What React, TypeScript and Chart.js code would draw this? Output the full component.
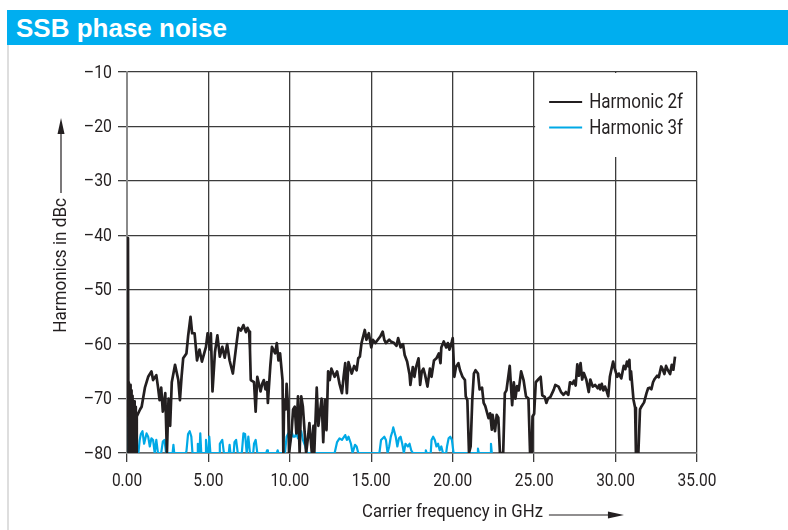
import React, { useEffect, useRef } from "react";
import { Chart, registerables } from "chart.js";

Chart.register(...registerables);

const FONT = "Roboto, 'Liberation Sans', sans-serif";

const TITLE = "SSB phase noise";
const X_TITLE = "Carrier frequency in GHz";
const Y_TITLE = "Harmonics in dBc";
const SERIES_NAMES = ["Harmonic 2f", "Harmonic 3f"];
const X_TICKS = [0, 5, 10, 15, 20, 25, 30, 35];
const Y_TICKS = [-10, -20, -30, -40, -50, -60, -70, -80];

// Harmonic 2f
const freq2 = [
  0.0, 0.06, 0.09, 0.11, 0.13, 0.15, 0.17, 0.19, 0.21, 0.23, 0.25, 0.27, 0.29, 0.31, 0.33, 0.35, 0.37, 0.39, 0.41, 0.43,
  0.45, 0.47, 0.49, 0.51, 0.53, 0.55, 0.57, 0.6, 0.8, 0.9, 1.1, 1.3,
  1.5, 1.6, 1.8, 1.9, 2.0, 2.1, 2.2, 2.35, 2.45, 2.55, 2.65, 2.75, 2.95, 3.15, 3.25, 3.35, 3.45, 3.65, 3.75, 3.9,
  4.0, 4.15, 4.3, 4.45, 4.6, 4.85, 4.95, 5.1, 5.15, 5.25, 5.4, 5.55, 5.7, 5.85, 6.0, 6.15, 6.3, 6.5, 6.7, 6.85,
  7.0, 7.15, 7.3, 7.4, 7.5, 7.55, 7.6, 7.8, 7.9, 8.0, 8.2, 8.3, 8.4, 8.5, 8.6, 8.65, 8.8, 8.9, 9.1, 9.2,
  9.3, 9.4, 9.55, 9.6, 9.65, 9.75, 9.8, 9.9, 9.95, 10.1, 10.2, 10.3, 10.4, 10.5, 10.6, 10.7, 10.8, 10.9, 11.0, 11.1,
  11.2, 11.35, 11.45, 11.5, 11.65, 11.75, 11.85, 11.95, 12.05, 12.15, 12.25, 12.35, 12.45, 12.55, 12.75, 12.9, 13.05, 13.2, 13.3, 13.4,
  13.5, 13.6, 13.8, 13.95, 14.1, 14.2, 14.3, 14.4, 14.55, 14.6, 14.7, 14.85, 14.95, 15.0, 15.1, 15.25, 15.55, 15.7, 15.8, 15.9,
  16.1, 16.2, 16.4, 16.55, 16.65, 16.8, 16.95, 17.05, 17.2, 17.35, 17.4, 17.55, 17.65, 17.75, 17.9, 18.0, 18.1, 18.2, 18.3, 18.45,
  18.6, 18.7, 18.85, 19.0, 19.15, 19.25, 19.3, 19.45, 19.6, 19.7, 19.8, 19.95, 20.0, 20.1, 20.2, 20.35, 20.45, 20.6, 20.75, 20.8,
  20.9, 21.0, 21.1, 21.2, 21.3, 21.4, 21.55, 21.65, 21.8, 21.9, 22.0, 22.2, 22.3, 22.4, 22.45, 22.6, 22.7, 22.8, 22.9, 23.1,
  23.2, 23.3, 23.5, 23.65, 23.75, 23.85, 23.95, 24.05, 24.2, 24.35, 24.5, 24.65, 24.75, 24.85, 24.9, 25.0, 25.1, 25.25, 25.4, 25.5,
  25.65, 25.75, 25.85, 26.0, 26.2, 26.3, 26.5, 26.65, 26.8, 26.95, 27.1, 27.2, 27.35, 27.45, 27.55, 27.65, 27.75, 27.85, 27.95, 28.05,
  28.2, 28.35, 28.45, 28.6, 28.75, 28.9, 29.0, 29.05, 29.15, 29.25, 29.35, 29.45, 29.55, 29.65, 29.85, 29.95, 30.1, 30.2, 30.35, 30.5,
  30.6, 30.7, 30.8, 30.85, 30.9, 30.95, 31.1, 31.2, 31.25, 31.4, 31.5, 31.6, 31.75, 31.9, 32.0, 32.1, 32.2, 32.3, 32.4, 32.55,
  32.65, 32.8, 32.9, 33.0, 33.1, 33.2, 33.35, 33.45, 33.55, 33.65,
];
const harm2 = [
  -40.5, -41, -80, -67, -80, -68, -80, -67.5, -80, -69, -80, -68.5, -80, -70, -80, -69.5, -80, -71, -80, -70.5,
  -80, -72, -80, -71.5, -80, -73, -80, -73.3, -72, -71.5, -68, -66,
  -65, -66.6, -65.7, -67.8, -70.3, -68, -72.4, -69, -80, -70, -75, -67, -63.8, -66.6, -70.3, -66, -62.6, -61.7, -58.6, -55,
  -58, -58, -63, -61, -63.2, -60.5, -58, -61, -58, -68.7, -61.5, -58.4, -62.3, -60.5, -62.5, -60, -63, -65.4, -60.5, -57,
  -57.5, -56.5, -57.8, -57, -57.7, -61, -66.6, -67, -72.4, -66, -68.7, -67.3, -66.6, -68.3, -67, -70.8, -64, -60.5, -61.7, -59.8,
  -63, -61.7, -66.6, -80, -70.3, -72, -67.3, -72, -80, -76.4, -72, -71.5, -76.4, -69.6, -80, -69.6, -71.5, -75.8, -80, -77.5,
  -74.5, -80, -75, -80, -68, -75, -72.5, -70, -78, -70.3, -75.8, -65, -66.6, -64.5, -66, -65, -67.3, -69, -66, -63.5,
  -69, -63.3, -65.4, -64, -64.8, -62.6, -62.3, -59.8, -58, -57.4, -59.2, -58, -59.8, -60.6, -59.2, -59.8, -58.6, -57.7, -59.2, -59.8,
  -59.2, -59.5, -59.8, -60.3, -58.9, -60.6, -60, -62, -63.2, -65.6, -67.5, -64.2, -66, -64.2, -62.6, -67.5, -65, -64.5, -65.6, -67.8,
  -64.5, -66, -63, -62.6, -61.7, -63.5, -60.6, -59.5, -60.6, -59.8, -61, -59.5, -58.9, -66, -64.2, -63.5, -64.8, -66, -66.6, -69.6,
  -70.3, -80, -78.8, -70.3, -65.4, -64.8, -65.4, -68.3, -68, -70.8, -71.4, -73.6, -72.7, -75.7, -73, -76, -73, -73.5, -80, -80,
  -69, -68.5, -64, -71.2, -67, -70, -67.7, -68.5, -65, -66.6, -69.6, -70, -80, -80, -73.3, -72.8, -67, -66.5, -66, -69.4,
  -69.7, -70.8, -70, -69.7, -68.4, -67.5, -67.8, -68.8, -69.3, -68.8, -69.3, -67, -67.3, -66.7, -67.6, -63.7, -65.8, -63.5, -66.5, -65.3,
  -66.5, -68.8, -66.5, -67.8, -67.5, -68.1, -67.5, -68.3, -67.3, -68.5, -67.8, -68.6, -69.6, -66, -63.2, -64.5, -66, -65.4, -66.3, -64,
  -64.6, -63.2, -64.1, -62.9, -66.5, -65, -70.2, -71.7, -80, -80, -72, -71.4, -70.7, -69, -68.1, -68, -68.3, -67, -66.4, -65.8,
  -66.1, -64.1, -64.7, -65.5, -64, -64.7, -65.5, -63.8, -64.7, -62.3,
];

// Harmonic 3f
const freq3 = [
  0.0, 0.03, 0.08, 0.7, 0.78, 0.85, 0.95, 1.05, 1.2, 1.3, 1.4, 1.5, 1.6, 1.7, 1.8, 1.9, 2.1, 2.2, 2.3, 2.4,
  2.8, 2.85, 2.9, 3.6, 3.65, 3.75, 3.85, 3.95, 4.02, 4.3, 4.35, 4.4, 4.45, 4.5, 4.56, 4.8, 4.85, 4.9, 5.0, 5.05,
  5.12, 5.65, 5.7, 5.85, 5.95, 6.25, 6.3, 6.35, 6.55, 6.6, 6.7, 6.8, 7.05, 7.15, 7.25, 7.35, 7.45, 7.55, 7.75, 7.8,
  7.9, 8.0, 8.55, 8.6, 8.65, 9.2, 9.25, 9.3, 9.7, 9.8, 9.9, 10.0, 10.1, 10.2, 10.3, 10.4, 10.5, 10.6, 10.7, 10.8,
  10.95, 11.05, 12.75, 12.9, 13.05, 13.2, 13.4, 13.5, 13.6, 13.75, 13.85, 14.0, 14.1, 14.2, 15.5, 15.6, 15.8, 15.9, 16.0, 16.1,
  16.2, 16.3, 16.35, 16.5, 16.6, 16.7, 16.8, 16.9, 17.0, 17.1, 17.25, 17.35, 17.45, 17.55, 18.3, 18.35, 18.4, 18.65, 18.7, 18.8,
  18.9, 19.0, 19.1, 19.2, 19.3, 19.4, 19.6, 19.65, 19.75, 19.85, 19.95, 20.05, 21.5, 21.55, 21.6, 22.3, 22.35, 22.4,
];
const harm3 = [
  -60, -64.5, -80, -80, -77.6, -76.5, -76, -78.3, -76.4, -77, -78.8, -77.3, -77.6, -80, -77.6, -80, -80, -77.9, -77.6, -80,
  -80, -78.5, -80, -80, -79.7, -76.5, -76, -77, -80, -80, -78.3, -80, -80, -76.4, -80, -80, -77.6, -80, -80, -77,
  -80, -80, -78.3, -77.6, -80, -80, -78.5, -80, -80, -78, -77.6, -80, -80, -76.4, -76.5, -80, -77, -80, -80, -78.3,
  -77.6, -80, -80, -79.5, -80, -80, -79.5, -80, -80, -77, -76.4, -78.3, -76, -77, -77, -76.4, -77.3, -76.4, -76, -77.6,
  -78.8, -80, -80, -78, -77.3, -77.6, -76.7, -77.6, -77, -78.3, -80, -78.5, -78.8, -80, -80, -77.6, -77, -77.6, -80, -78.8,
  -77, -76, -75.3, -77, -78.8, -77.3, -77, -78.3, -80, -78.3, -78.8, -78.3, -79.5, -80, -80, -79.5, -80, -80, -77.6, -77,
  -77.6, -78.8, -78.3, -79.5, -78.8, -80, -80, -78.8, -77.3, -77, -77.6, -80, -80, -79.2, -80, -80, -78.3, -80,
];

const BLACK = "#231f20";
const BLUE = "#00a9e6";

function toPoints(xs: number[], ys: number[]) {
  return xs.map((x, i) => ({ x, y: ys[i] }));
}

// draw horizontally condensed text (the original uses a condensed typeface)
function cText(ctx: any, text: string, x: number, y: number, align: string, sx: number) {
  ctx.save();
  ctx.translate(x, y);
  ctx.scale(sx, 1);
  ctx.textAlign = align;
  ctx.fillText(text, 0, 0);
  const w = ctx.measureText(text).width * sx;
  ctx.restore();
  return w;
}

const overlay = {
  id: "overlay",
  afterDatasetsDraw(chart: any) {
    const { ctx, chartArea: a, scales } = chart;
    const x = scales.x;
    const y = scales.y;
    ctx.save();
    ctx.fillStyle = BLACK;
    ctx.textBaseline = "middle";

    // tick labels
    ctx.font = `18px ${FONT}`;
    X_TICKS.forEach((v) => {
      cText(ctx, v.toFixed(2), x.getPixelForValue(v), a.bottom + 28, "center", 0.86);
    });
    Y_TICKS.forEach((v) => {
      cText(ctx, "\u2013" + Math.abs(v), a.left - 15, y.getPixelForValue(v) + 1, "right", 0.88);
    });

    // legend box
    const lx0 = x.getPixelForValue(25) + 1;
    const lx1 = x.getPixelForValue(35) - 1;
    ctx.fillStyle = "#ffffff";
    ctx.fillRect(lx0, a.top + 1, lx1 - lx0, 84);
    const rows = [
      { name: SERIES_NAMES[0], color: BLACK, y: a.top + 30 },
      { name: SERIES_NAMES[1], color: BLUE, y: a.top + 55.5 },
    ];
    ctx.font = `20px ${FONT}`;
    rows.forEach((r) => {
      ctx.strokeStyle = r.color;
      ctx.lineWidth = 2;
      ctx.beginPath();
      ctx.moveTo(lx0 + 14, r.y);
      ctx.lineTo(lx0 + 47, r.y);
      ctx.stroke();
      ctx.fillStyle = BLACK;
      cText(ctx, r.name, lx0 + 54, r.y + 1, "left", 0.85);
    });

    // x axis title with arrow
    ctx.fillStyle = BLACK;
    ctx.font = `19px ${FONT}`;
    const tx = 362;
    const ty = a.bottom + 59;
    const tw = cText(ctx, X_TITLE, tx, ty, "left", 0.88);
    ctx.strokeStyle = BLACK;
    ctx.lineWidth = 1.2;
    ctx.beginPath();
    ctx.moveTo(tx + tw + 6, ty + 3);
    ctx.lineTo(tx + tw + 67, ty + 3);
    ctx.stroke();
    ctx.beginPath();
    ctx.moveTo(tx + tw + 81, ty + 3);
    ctx.lineTo(tx + tw + 65, ty - 0.5);
    ctx.lineTo(tx + tw + 65, ty + 6.5);
    ctx.closePath();
    ctx.fill();

    // y axis title with arrow
    const yx = 61;
    const yEnd = 198;
    ctx.save();
    ctx.translate(yx, yEnd);
    ctx.rotate(-Math.PI / 2);
    cText(ctx, Y_TITLE, 0, 0, "right", 0.9);
    ctx.restore();
    ctx.beginPath();
    ctx.moveTo(yx, yEnd - 5);
    ctx.lineTo(yx, 132);
    ctx.stroke();
    ctx.beginPath();
    ctx.moveTo(yx, 118);
    ctx.lineTo(yx - 3.5, 134);
    ctx.lineTo(yx + 3.5, 134);
    ctx.closePath();
    ctx.fill();
    ctx.restore();
  },
};

export default function App() {
  const ref = useRef<HTMLCanvasElement | null>(null);

  useEffect(() => {
    if (!ref.current) return;
    const chart = new Chart(ref.current, {
      type: "scatter",
      data: {
        datasets: [
          {
            label: SERIES_NAMES[0],
            data: toPoints(freq2, harm2),
            showLine: true,
            borderColor: BLACK,
            backgroundColor: BLACK,
            borderWidth: 2.7,
            pointRadius: 0,
            tension: 0,
            borderJoinStyle: "round",
          },
          {
            label: SERIES_NAMES[1],
            data: toPoints(freq3, harm3),
            showLine: true,
            borderColor: BLUE,
            backgroundColor: BLUE,
            borderWidth: 2.2,
            pointRadius: 0,
            tension: 0,
            borderJoinStyle: "round",
          },
        ],
      },
      options: {
        responsive: false,
        animation: false,
        layout: { padding: { left: 67, right: 91, top: 72, bottom: 0 } },
        plugins: { legend: { display: false }, tooltip: { enabled: false }, title: { display: false } },
        scales: {
          x: {
            type: "linear",
            min: 0,
            max: 35,
            afterFit: (s: any) => {
              s.height = 77;
            },
            afterBuildTicks: (s: any) => {
              s.ticks = X_TICKS.map((v) => ({ value: v }));
            },
            ticks: { display: false },
            grid: { color: "#3c3c3c", lineWidth: 1.3, tickLength: 9, tickColor: "#3c3c3c" },
            border: { color: "#666", width: 1.5 },
          },
          y: {
            type: "linear",
            min: -80,
            max: -10,
            afterFit: (s: any) => {
              s.width = 60;
            },
            afterBuildTicks: (s: any) => {
              s.ticks = Y_TICKS.map((v) => ({ value: v }));
            },
            ticks: { display: false },
            grid: { color: "#3c3c3c", lineWidth: 1.3, tickLength: 9, tickColor: "#3c3c3c" },
            border: { color: "#8a8a8a", width: 2 },
          },
        },
      },
      plugins: [overlay],
    });
    return () => chart.destroy();
  }, []);

  return (
    <div style={{ position: "fixed", left: 0, top: 0, width: 788, height: 530, background: "#fff" }}>
      <div
        style={{
          position: "absolute",
          left: 7,
          top: 10,
          width: 781,
          height: 35,
          background: "#00aeef",
          color: "#fff",
          fontFamily: "'Liberation Sans', Arial, sans-serif",
          fontWeight: "bold",
          fontSize: 26,
          lineHeight: "36px",
          paddingLeft: 9,
          boxSizing: "border-box",
        }}
      >
        {TITLE}
      </div>
      <div style={{ position: "absolute", left: 7, top: 45, width: 2, height: 485, background: "#dedede" }} />
      <canvas ref={ref} width={788} height={530} style={{ position: "absolute", left: 0, top: 0 }} />
    </div>
  );
}
